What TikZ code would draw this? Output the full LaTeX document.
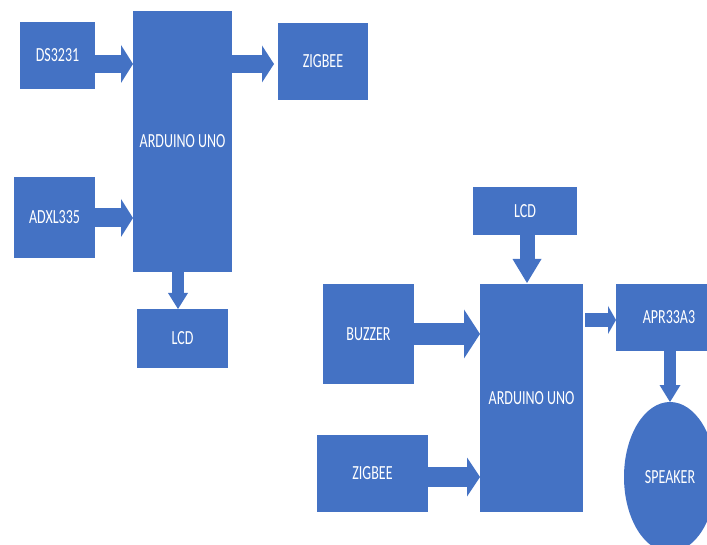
\documentclass[tikz,border=0pt]{standalone}
\usepackage{fontspec}
\setmainfont{Carlito}
\usetikzlibrary{arrows.meta,shapes.geometric}
\definecolor{ablue}{HTML}{4472C4}
\newcommand{\sqz}[1]{\scalebox{0.7}[1]{#1}}
\tikzset{
  box/.style={fill=ablue, draw=none, inner sep=0pt, outer sep=0pt, text=white,
              font=\fontsize{20}{24}\selectfont},
  blk/.style n args={3}{draw=ablue, line width=#1,
              -{Triangle[width=#2,length=#3,line width=0pt,fill=ablue]}},
}
\begin{document}
\begin{tikzpicture}[x=1pt,y=-1pt]
\useasboundingbox (0,0) rectangle (707,545);
\begin{scope}
\clip (0,0) rectangle (707,545);
% left system
\node[box, minimum width=75pt, minimum height=67pt] (ds) at (57.5,55.5) {\sqz{DS3231}};
\node[box, minimum width=99pt, minimum height=261pt] (ard1) at (182.5,141.5) {\sqz{ARDUINO UNO}};
\node[box, minimum width=90pt, minimum height=77pt] (zig1) at (323,61.5) {\sqz{ZIGBEE}};
\node[box, minimum width=81pt, minimum height=81pt] (adxl) at (54.5,217.5) {\sqz{ADXL335}};
\node[box, minimum width=91pt, minimum height=59pt] (lcd1) at (182.5,338.5) {\sqz{LCD}};
% right system
\node[box, minimum width=104pt, minimum height=48pt] (lcd2) at (525,211) {\sqz{LCD}};
\node[box, minimum width=103pt, minimum height=228pt] (ard2) at (531.5,398) {\sqz{ARDUINO UNO}};
\node[box, minimum width=91pt, minimum height=100pt] (buz) at (368.5,334) {\sqz{BUZZER}};
\node[box, minimum width=111pt, minimum height=77pt] (zig2) at (372.5,473.5) {\sqz{ZIGBEE}};
\node[box, minimum width=106pt, minimum height=67pt] (apr) at (669,317.5) {\sqz{APR33A3}};
\node[box, ellipse, minimum width=92pt, minimum height=150pt] (spk) at (670,477) {\sqz{SPEAKER}};
% connectors
\draw[blk={18pt}{38pt}{12pt}] ([yshift=-8.5pt]ds.east) -- ([yshift=77.5pt]ard1.west);
\draw[blk={19pt}{38pt}{12pt}] ([yshift=-0.5pt]adxl.east) -- ([yshift=-76.5pt]ard1.west);
\draw[blk={18pt}{37pt}{12pt}] ([yshift=77.5pt]ard1.east) -- ([xshift=-4pt,yshift=-2.5pt]zig1.west);
\draw[blk={12pt}{20pt}{16pt}] ([xshift=-4.5pt]ard1.south) -- ([xshift=-4.5pt]lcd1.north);
\draw[blk={15pt}{29pt}{24pt}] ([xshift=2pt]lcd2.south) -- ([xshift=-4.5pt,yshift=1pt]ard2.north);
\draw[blk={22pt}{49pt}{16pt}] (buz.east) -- ([yshift=64pt]ard2.west);
\draw[blk={20pt}{39pt}{13pt}] ([yshift=-3.5pt]zig2.east) -- ([yshift=-79pt]ard2.west);
\draw[blk={14pt}{28pt}{8pt}] ([xshift=2pt,yshift=78pt]ard2.east) -- ([yshift=-2.5pt]apr.west);
\draw[blk={12pt}{21pt}{17pt}] ([xshift=1pt]apr.south) -- (spk.north);
\end{scope}
\end{tikzpicture}
\end{document}
